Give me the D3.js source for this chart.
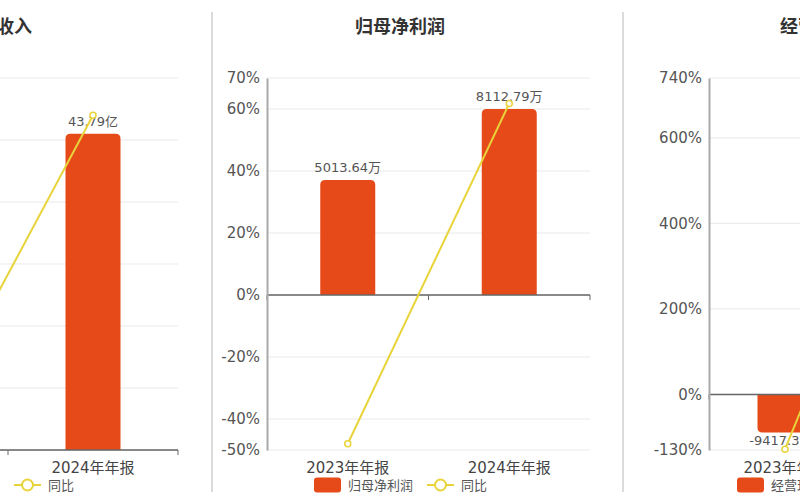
<!DOCTYPE html>
<html><head><meta charset="utf-8">
<script src="https://cdn.jsdelivr.net/npm/d3@7/dist/d3.min.js"></script>
<style>
html,body{margin:0;padding:0;background:#fff;}
svg{display:block;}
text{font-family:"DejaVu Sans","Noto Sans CJK SC",sans-serif;}
</style></head>
<body>
<svg id="chart" width="800" height="500"></svg>
<script>
// ---- data ----
const categories = ["2023年年报", "2024年年报"];
const titles = ["营业总收入", "归母净利润", "经营现金流"];
const revenue = [28.43, 43.79];          // 亿
const revenueYoy = [2.7, 54.0];          // %
const netProfit = [5013.64, 8112.79];    // 万
const netProfitYoy = [-48.0, 61.81];     // %
const cashFlow = [-9417.37, 59800];      // 万
const cashFlowYoy = [-128.0, 735.0];     // %
const revenueTicks = [0, 10, 20, 30, 40, 50, 60];
const netProfitTicks = [-50, -40, -20, 0, 20, 40, 60, 70];
const cashFlowTicks = [-130, 0, 200, 400, 600, 740];

const BAR = "#e64a19", LINE = "#e8d43a";
const svg = d3.select("#chart");

// separators
[212, 623].forEach(x => svg.append("line").attr("x1", x).attr("x2", x).attr("y1", 12).attr("y2", 492)
  .attr("stroke", "#cfcfcf").attr("stroke-width", 1.5));

const panels = [
  {title: titles[0], bars: revenue, yoy: revenueYoy, ticks: revenueTicks, unit: "亿",
   pct: [0, 60], bar: [0, 51.5], xr: [-162, 178], titleX: -13, legendX: -99, showAxis: false},
  {title: titles[1], bars: netProfit, yoy: netProfitYoy, ticks: netProfitTicks, unit: "万",
   pct: [-50, 70], bar: [-6760, 9464], xr: [267, 590], titleX: 400, legendX: 314, showAxis: true},
  {title: titles[2], bars: cashFlow, yoy: cashFlowYoy, ticks: cashFlowTicks, unit: "万",
   pct: [-130, 740], bar: [-13770, 78370], xr: [709, 1013], titleX: 825, legendX: 737, showAxis: true}
];

function barPath(x, w, y0, y1, r) {
  // rounded at far end (y1)
  const up = y1 < y0;
  const h = Math.abs(y1 - y0);
  r = Math.min(r, h / 2, w / 2);
  if (up) {
    return `M${x},${y0}V${y1 + r}Q${x},${y1} ${x + r},${y1}H${x + w - r}Q${x + w},${y1} ${x + w},${y1 + r}V${y0}Z`;
  } else {
    return `M${x},${y0}V${y1 - r}Q${x},${y1} ${x + r},${y1}H${x + w - r}Q${x + w},${y1} ${x + w},${y1 - r}V${y0}Z`;
  }
}

panels.forEach(p => {
  const g = svg.append("g");
  const top = 78, bottom = 450;
  const y = d3.scaleLinear().domain(p.pct).range([bottom, top]);
  const yb = d3.scaleLinear().domain(p.bar).range([bottom, top]);
  const x = d3.scaleBand().domain(categories).range(p.xr).paddingInner(0).paddingOuter(0);
  const bw = 55;
  const cx = c => x(c) + x.bandwidth() / 2;
  const x0 = p.xr[0], x1 = p.xr[1];
  const zeroY = y(0);

  // title
  g.append("text").attr("x", p.titleX).attr("y", 33).attr("text-anchor", "middle")
    .style("font-family", "'Noto Sans CJK SC',sans-serif").attr("font-weight", "bold")
    .attr("font-size", 18).attr("fill", "#333").text(p.title);

  // grid
  g.selectAll(".grid").data(p.ticks).join("line")
    .attr("x1", x0).attr("x2", x1).attr("y1", d => y(d)).attr("y2", d => y(d))
    .attr("stroke", "#e9e9e9").attr("stroke-width", 1);

  // bars
  g.selectAll(".bar").data(categories).join("path")
    .attr("d", (c, i) => barPath(cx(c) - bw / 2, bw, yb(0), yb(p.bars[i]), 5))
    .attr("fill", BAR);

  // zero axis line
  g.append("line").attr("x1", x0).attr("x2", x1).attr("y1", zeroY).attr("y2", zeroY)
    .attr("stroke", "#666").attr("stroke-width", 1.5);
  // band boundary ticks
  const bounds = [x0].concat(categories.map(c => x(c) + x.bandwidth()));
  g.selectAll(".tk").data(bounds).join("line")
    .attr("x1", d => d).attr("x2", d => d).attr("y1", zeroY).attr("y2", zeroY + 5)
    .attr("stroke", "#666").attr("stroke-width", 1);

  // y axis
  if (p.showAxis) {
    const ax = g.append("g").attr("transform", `translate(${x0},0)`)
      .call(d3.axisLeft(y).tickValues(p.ticks).tickFormat(d => d + "%").tickSize(0).tickPadding(7));
    ax.select(".domain").attr("stroke", "#aaa").attr("stroke-width", 2);
    ax.selectAll("text").attr("font-size", 15).attr("fill", "#555")
      .style("font-family", "'DejaVu Sans',sans-serif");
  }

  // category labels
  g.selectAll(".cat").data(categories).join("text")
    .attr("x", c => cx(c)).attr("y", 473).attr("text-anchor", "middle")
    .attr("font-size", 15).attr("fill", "#444").text(c => c);

  // bar value labels
  g.selectAll(".val").data(categories).join("text")
    .attr("x", c => cx(c))
    .attr("y", (c, i) => p.bars[i] >= 0 ? yb(p.bars[i]) - 8 : yb(p.bars[i]) + 13)
    .attr("text-anchor", "middle").attr("font-size", 13).attr("fill", "#555")
    .text((c, i) => p.bars[i].toFixed(2) + p.unit);

  // yoy line
  const line = d3.line().x((d, i) => cx(categories[i])).y(d => y(d));
  g.append("path").datum(p.yoy).attr("d", line).attr("fill", "none")
    .attr("stroke", LINE).attr("stroke-width", 2);
  g.selectAll(".pt").data(p.yoy).join("circle")
    .attr("cx", (d, i) => cx(categories[i])).attr("cy", d => y(d)).attr("r", 3)
    .attr("fill", "#fff").attr("stroke", LINE).attr("stroke-width", 1.5);

  // legend
  const lg = g.append("g").attr("transform", `translate(${p.legendX},485)`);
  lg.append("rect").attr("x", 0).attr("y", -7.5).attr("width", 27).attr("height", 15).attr("rx", 3).attr("fill", BAR);
  lg.append("text").attr("x", 34).attr("y", 5).attr("font-size", 13).attr("fill", "#555")
    .style("font-family", "'Noto Sans CJK SC',sans-serif").text(p.title);
  const lx = 34 + 65 + 14;
  lg.append("line").attr("x1", lx).attr("x2", lx + 27).attr("y1", 0).attr("y2", 0)
    .attr("stroke", LINE).attr("stroke-width", 2);
  lg.append("circle").attr("cx", lx + 13.5).attr("cy", 0).attr("r", 5.5)
    .attr("fill", "#fff").attr("stroke", LINE).attr("stroke-width", 2);
  lg.append("text").attr("x", lx + 34).attr("y", 5).attr("font-size", 13).attr("fill", "#555")
    .style("font-family", "'Noto Sans CJK SC',sans-serif").text("同比");
});
</script>
</body></html>
